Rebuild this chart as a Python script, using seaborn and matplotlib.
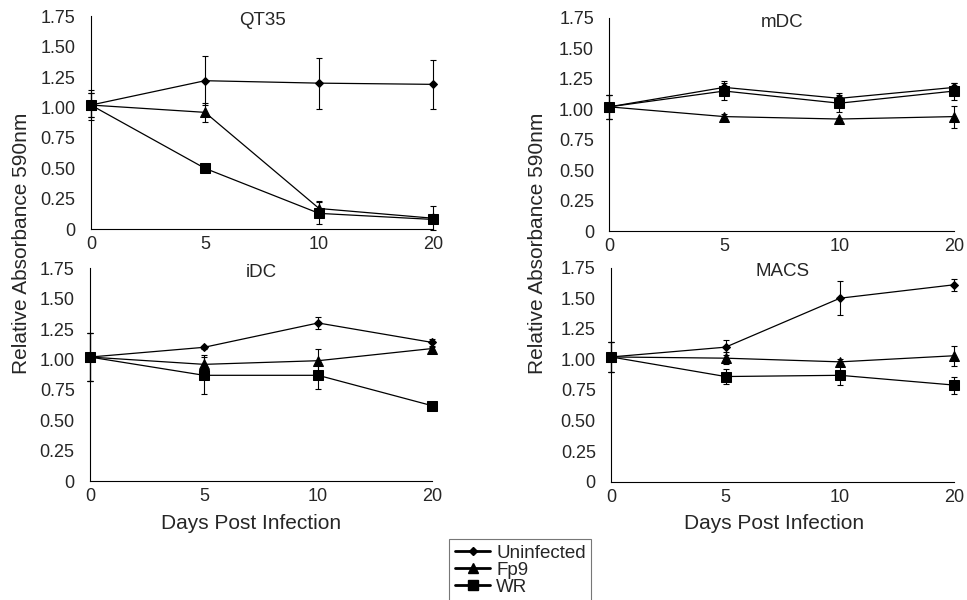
import matplotlib

matplotlib.use("Agg")
import matplotlib.pyplot as plt
import numpy as np
import pandas as pd
import seaborn as sns
from matplotlib.lines import Line2D

DAYS = ["0", "5", "10", "20"]
GROUPS = ["Uninfected", "Fp9", "WR"]
PANELS = ["QT35", "mDC", "iDC", "MACS"]

# valori (medie, eroare) per panou
qt35_uninf = [1.02, 1.22, 1.20, 1.19]
qt35_uninf_err = [0.12, 0.20, 0.21, 0.20]
qt35_fp9 = [1.02, 0.96, 0.17, 0.09]
qt35_fp9_err = [0.10, 0.08, 0.06, 0.10]
qt35_wr = [1.02, 0.50, 0.13, 0.08]
qt35_wr_err = [0.10, 0.02, 0.09, 0.02]

mdc_uninf = [1.02, 1.18, 1.09, 1.18]
mdc_uninf_err = [0.10, 0.05, 0.04, 0.04]
mdc_fp9 = [1.02, 0.94, 0.92, 0.94]
mdc_fp9_err = [0.10, 0.02, 0.01, 0.09]
mdc_wr = [1.02, 1.15, 1.05, 1.15]
mdc_wr_err = [0.10, 0.07, 0.07, 0.07]

idc_uninf = [1.02, 1.10, 1.30, 1.14]
idc_uninf_err = [0.20, 0.01, 0.05, 0.03]
idc_fp9 = [1.02, 0.96, 0.99, 1.09]
idc_fp9_err = [0.20, 0.08, 0.10, 0.01]
idc_wr = [1.02, 0.87, 0.87, 0.62]
idc_wr_err = [0.20, 0.15, 0.11, 0.01]

macs_uninf = [1.02, 1.10, 1.50, 1.61]
macs_uninf_err = [0.12, 0.06, 0.14, 0.05]
macs_fp9 = [1.02, 1.01, 0.98, 1.03]
macs_fp9_err = [0.12, 0.05, 0.02, 0.08]
macs_wr = [1.02, 0.86, 0.87, 0.79]
macs_wr_err = [0.12, 0.06, 0.08, 0.07]

VALUES = {
    "QT35": (qt35_uninf, qt35_fp9, qt35_wr),
    "mDC": (mdc_uninf, mdc_fp9, mdc_wr),
    "iDC": (idc_uninf, idc_fp9, idc_wr),
    "MACS": (macs_uninf, macs_fp9, macs_wr),
}
ERRORS = {
    "QT35": (qt35_uninf_err, qt35_fp9_err, qt35_wr_err),
    "mDC": (mdc_uninf_err, mdc_fp9_err, mdc_wr_err),
    "iDC": (idc_uninf_err, idc_fp9_err, idc_wr_err),
    "MACS": (macs_uninf_err, macs_fp9_err, macs_wr_err),
}

MARKERS = {"Uninfected": ("D", 4.5), "Fp9": ("^", 7), "WR": ("s", 7)}
YTICKS = [0, 0.25, 0.5, 0.75, 1.0, 1.25, 1.5, 1.75]
YTICKLABELS = ["0", "0.25", "0.50", "0.75", "1.00", "1.25", "1.50", "1.75"]

sns.set_style("white")
plt.rcParams["font.family"] = ["Liberation Sans", "DejaVu Sans"]

# tabel lung pentru seaborn
rows = []
for panel in PANELS:
    for g, vals, errs in zip(GROUPS, VALUES[panel], ERRORS[panel]):
        for i, (v, e) in enumerate(zip(vals, errs)):
            rows.append({"panel": panel, "group": g, "pos": i, "value": v, "err": e})
df = pd.DataFrame(rows)

fig = plt.figure(figsize=(9.67, 6), dpi=100)
boxes = {
    "QT35": [0.094, 0.618, 0.354, 0.355],
    "mDC": [0.630, 0.615, 0.357, 0.355],
    "iDC": [0.093, 0.198, 0.354, 0.355],
    "MACS": [0.632, 0.197, 0.355, 0.357],
}

for panel in PANELS:
    ax = fig.add_axes(boxes[panel])
    sub = df[df["panel"] == panel]
    for g in GROUPS:
        d = sub[sub["group"] == g]
        m, ms = MARKERS[g]
        sns.lineplot(
            data=d, x="pos", y="value", color="black", linewidth=0.9,
            marker=m, markersize=ms, markeredgecolor="black",
            ax=ax, legend=False, clip_on=False, zorder=3,
        )
        ax.errorbar(
            d["pos"], d["value"], yerr=d["err"], fmt="none",
            ecolor="black", elinewidth=0.8, capsize=2, capthick=0.8,
            clip_on=False, zorder=2,
        )
    ax.set_xlim(0, 3)
    ax.set_ylim(0, 1.75)
    ax.set_xticks(range(len(DAYS)))
    ax.set_xticklabels(DAYS, fontsize=13)
    ax.set_yticks(YTICKS)
    ax.set_yticklabels(YTICKLABELS, fontsize=13)
    ax.set_xlabel("")
    ax.set_ylabel("")
    ax.tick_params(axis="x", length=3, width=0.8, color="black", pad=5, direction="in")
    ax.tick_params(axis="y", length=0, pad=11)
    for s in ["top", "right"]:
        ax.spines[s].set_visible(False)
    for s in ["left", "bottom"]:
        ax.spines[s].set_color("black")
        ax.spines[s].set_linewidth(0.8)
    ax.text(0.5, 0.98, panel, transform=ax.transAxes, ha="center", va="center", fontsize=13.5)

# etichete comune
fig.text(0.022, 0.595, "Relative Absorbance 590nm", rotation=90, ha="center", va="center", fontsize=15)
fig.text(0.556, 0.595, "Relative Absorbance 590nm", rotation=90, ha="center", va="center", fontsize=15)
fig.text(0.26, 0.128, "Days Post Infection", ha="center", va="center", fontsize=15)
fig.text(0.80, 0.128, "Days Post Infection", ha="center", va="center", fontsize=15)

handles = [
    Line2D([], [], color="black", linewidth=2, marker=MARKERS[g][0],
           markersize=MARKERS[g][1], markeredgecolor="black")
    for g in GROUPS
]
leg = fig.legend(
    handles, GROUPS, loc="upper center", bbox_to_anchor=(0.538, 0.102),
    fontsize=13.5, frameon=True, fancybox=False, handlelength=1.9,
    handletextpad=0.3, labelspacing=0.0, borderpad=0.3, borderaxespad=0,
)
leg.get_frame().set_edgecolor("#555555")
leg.get_frame().set_linewidth(0.8)

fig.savefig("out.png", dpi=100)
